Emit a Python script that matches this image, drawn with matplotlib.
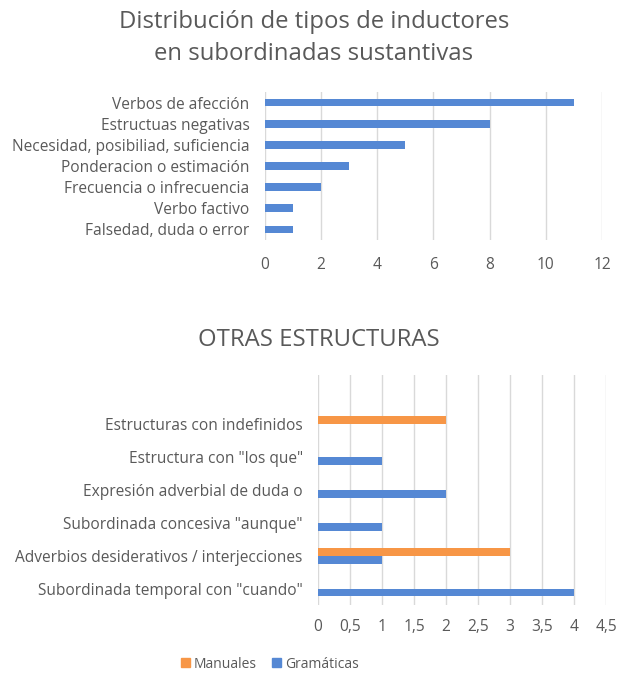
import numpy as np
import matplotlib
matplotlib.use("Agg")
from matplotlib import pyplot as plt
from matplotlib.patches import Patch

plt.rcParams['font.family'] = ['Open Sans', 'DejaVu Sans']

# top chart data (bottom -> top)
inductores = ['Falsedad, duda o error', 'Verbo factivo', 'Frecuencia o infrecuencia',
              'Ponderacion o estimación', 'Necesidad, posibiliad, suficiencia',
              'Estructuas negativas', 'Verbos de afección']
inductores_vals = [1, 1, 2, 3, 5, 8, 11]

# bottom chart data (bottom -> top)
otras = ['Subordinada temporal con "cuando"', 'Adverbios desiderativos / interjecciones',
         'Subordinada concesiva "aunque"', 'Expresión adverbial de duda o',
         'Estructura con "los que"', 'Estructuras con indefinidos', '']
gramaticas = [4, 1, 1, 2, 1, 0, 0]
manuales = [0, 3, 0, 0, 0, 2, 0]

BLUE = '#5588D4'
ORANGE = '#F79646'
TXT = '#595959'
GRID = '#D9D9D9'

fig = plt.figure(figsize=(6.24, 6.73), dpi=100)

def style(ax):
    for s in ax.spines.values():
        s.set_visible(False)
    ax.grid(axis='x', color=GRID, linewidth=1)
    ax.set_axisbelow(True)
    ax.tick_params(length=0, colors=TXT, labelsize=11.2)

# --- top chart
ax1 = fig.add_axes([265/624, 1-240/673, 337/624, 148/673])
y1 = np.arange(len(inductores))
ax1.barh(y1, inductores_vals, height=0.36, color=BLUE)
ax1.set_yticks(y1)
ax1.set_yticklabels(inductores)
ax1.set_xlim(0, 12)
ax1.set_xticks(range(0, 13, 2))
ax1.set_ylim(-0.5, len(inductores)-0.5)
style(ax1)
ax1.tick_params(axis='x', pad=12)
ax1.tick_params(axis='y', pad=11)

fig.text(314/624, 1-38/673, 'Distribución de tipos de inductores\nen subordinadas sustantivas',
         ha='center', va='center', fontsize=17.2, color=TXT, linespacing=1.4)

# --- bottom chart
ax2 = fig.add_axes([318/624, 1-605/673, 288/624, 230/673])
y2 = np.arange(len(otras))
h = 0.24
ax2.barh(y2 - h/2, gramaticas, height=h, color=BLUE)
ax2.barh(y2 + h/2, manuales, height=h, color=ORANGE)
ax2.set_yticks(y2)
ax2.set_yticklabels(otras)
ax2.set_xlim(0, 4.5)
xt = np.arange(0, 4.51, 0.5)
ax2.set_xticks(xt)
ax2.set_xticklabels([('%g' % v).replace('.', ',') for v in xt])
ax2.set_ylim(-0.5, len(otras)-0.5)
style(ax2)
ax2.tick_params(axis='x', pad=10)
ax2.tick_params(axis='y', pad=11)

fig.text(319/624, 1-340/673, 'OTRAS ESTRUCTURAS', ha='center', va='center',
         fontsize=17.2, color=TXT)

handles = [Patch(color=ORANGE, label='Manuales'), Patch(color=BLUE, label='Gramáticas')]
fig.legend(handles=handles, loc='center', bbox_to_anchor=(270/624, 1-664/673), ncol=2,
           frameon=False, fontsize=10, labelcolor=TXT, handlelength=0.6, handleheight=0.6,
           handletextpad=0.3, columnspacing=1.1)

fig.savefig('out.png', dpi=100)
